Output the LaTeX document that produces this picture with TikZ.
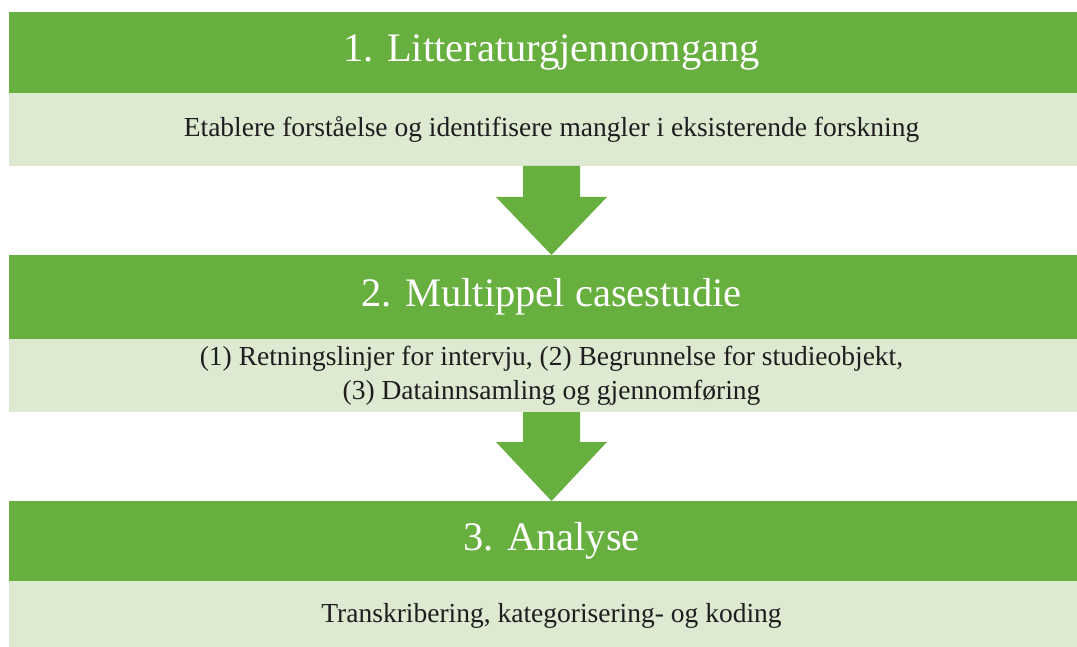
\documentclass[tikz,border=0pt]{standalone}
\usepackage{fontspec}
\setmainfont{Liberation Serif}
\usetikzlibrary{positioning,calc}
\definecolor{bandgreen}{HTML}{67AF3F}
\definecolor{bandlight}{HTML}{DDE9D0}
\definecolor{bodytext}{HTML}{1E1E1E}

\begin{document}
\begin{tikzpicture}[x=1pt,y=-1pt,
    head/.style={fill=bandgreen, text=white, minimum width=1085pt,
      inner sep=0pt, outer sep=0pt, font=\fontsize{40.5}{48}\selectfont},
    info/.style={fill=bandlight, text=bodytext, minimum width=1085pt,
      inner sep=0pt, outer sep=0pt, align=center,
      font=\fontsize{27.5}{34}\selectfont},
    blockarrow/.style={fill=bandgreen}]
  \useasboundingbox (0,0) rectangle (1077,647);
  \clip (0,0) rectangle (1077,647);

  % Trinn 1
  \node[head, minimum height=81pt] (head1) at (551.5,52.5) {1. Litteraturgjennomgang};
  \node[info, minimum height=73pt, below=0pt of head1] (info1)
    {Etablere forståelse og identifisere mangler i eksisterende forskning};

  % Trinn 2
  \node[head, minimum height=84pt] (head2) at (551.5,297) {2. Multippel casestudie};
  \node[info, minimum height=73pt, below=0pt of head2] (info2)
    {(1) Retningslinjer for intervju, (2) Begrunnelse for studieobjekt,\\
     (3) Datainnsamling og gjennomføring};

  % Trinn 3
  \node[head, minimum height=80pt] (head3) at (551.5,541) {3. Analyse};
  \node[info, minimum height=70pt, below=0pt of head3] (info3)
    {Transkribering, kategorisering- og koding};

  % Piler mellom trinnene
  \fill[blockarrow] ($(info1.south)+(-28.5,0)$) -- ($(info1.south)+(28.5,0)$)
    -- ($(info1.south)+(28.5,31)$) -- ($(info1.south)+(55.5,31)$)
    -- (head2.north) -- ($(info1.south)+(-55.5,31)$)
    -- ($(info1.south)+(-28.5,31)$) -- cycle;
  \fill[blockarrow] ($(info2.south)+(-28.5,0)$) -- ($(info2.south)+(28.5,0)$)
    -- ($(info2.south)+(28.5,30)$) -- ($(info2.south)+(55.5,30)$)
    -- (head3.north) -- ($(info2.south)+(-55.5,30)$)
    -- ($(info2.south)+(-28.5,30)$) -- cycle;
\end{tikzpicture}
\end{document}
